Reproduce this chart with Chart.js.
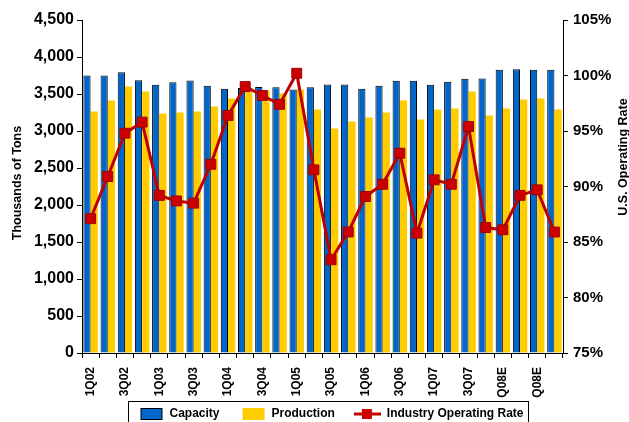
<!DOCTYPE html>
<html>
<head>
<meta charset="utf-8">
<script src="https://cdn.jsdelivr.net/npm/chart.js@4"></script>
<style>
  html, body { margin: 0; padding: 0; background: #fff; }
  #wrap { width: 629px; height: 422px; }
</style>
</head>
<body>
<div id="wrap"><canvas id="myChart" width="629" height="422"></canvas></div>
<script>
const quarters = ['1Q02', '2Q02', '3Q02', '4Q02', '1Q03', '2Q03', '3Q03', '4Q03',
  '1Q04', '2Q04', '3Q04', '4Q04', '1Q05', '2Q05', '3Q05', '4Q05',
  '1Q06', '2Q06', '3Q06', '4Q06', '1Q07', '2Q07', '3Q07', '4Q07',
  '1Q08E', '2Q08E', '3Q08E', '4Q08E'];

// thousands of tons
const capacity = [3750, 3750, 3795, 3686, 3624, 3660, 3682, 3611,
  3570, 3580, 3595, 3590, 3560, 3592, 3628, 3628,
  3570, 3611, 3678, 3678, 3624, 3664, 3705, 3709,
  3827, 3836, 3827, 3827];
const production = [3264, 3412, 3601, 3534, 3236, 3250, 3264, 3331,
  3439, 3530, 3547, 3507, 3560, 3290, 3034, 3128,
  3182, 3250, 3412, 3155, 3290, 3304, 3534, 3209,
  3304, 3426, 3439, 3290];
// percent
const operatingRate = [87.1, 90.9, 94.8, 95.8, 89.2, 88.7, 88.5, 92.0,
  96.4, 99.0, 98.2, 97.4, 100.2, 91.5, 83.4, 85.9,
  89.1, 90.2, 93.0, 85.8, 90.6, 90.2, 95.4, 86.3,
  86.1, 89.2, 89.7, 85.9];

const leftTicks = { min: 0, max: 4500, step: 500 };
const rightTicks = { min: 75, max: 105, step: 5 };

const sans = "'Liberation Sans', Arial, sans-serif";
const blue = '#0066CC';
const yellow = '#FFCC00';
const red = '#C00000';

// little pictures for the legend (swatch / line with marker)
function swatch(kind) {
  const c = document.createElement('canvas');
  c.width = 36; c.height = 14;
  const g = c.getContext('2d');
  if (kind === 'line') {
    g.strokeStyle = red; g.lineWidth = 3;
    g.beginPath(); g.moveTo(9, 7); g.lineTo(36, 7); g.stroke();
    g.fillStyle = '#CC0000';
    g.fillRect(17, 2, 10, 10);
  } else {
    g.fillStyle = kind;
    g.fillRect(13, 1, 22, 12);
    if (kind === blue) {
      g.strokeStyle = '#000'; g.lineWidth = 1;
      g.strokeRect(13.5, 1.5, 21, 11);
    }
  }
  return c;
}
const legendPics = [swatch(blue), swatch(yellow), swatch('line')];

const extras = {
  id: 'extras',
  afterDraw(chart) {
    const ctx = chart.ctx;
    ctx.save();
    ctx.fillStyle = '#000';
    ctx.font = 'bold 12.5px ' + sans;
    ctx.textAlign = 'center';
    ctx.textBaseline = 'middle';
    // left axis title
    ctx.save();
    ctx.translate(18, 183);
    ctx.rotate(-Math.PI / 2);
    ctx.fillText('Thousands of Tons', 0, 0);
    ctx.restore();
    // right axis title
    ctx.save();
    ctx.translate(624, 157);
    ctx.rotate(-Math.PI / 2);
    ctx.fillText('U.S. Operating Rate', 0, 0);
    ctx.restore();
    // box around legend
    const hb = chart.legend.legendHitBoxes;
    if (hb && hb.length) {
      const l = hb[0].left + 1;
      const last = hb[hb.length - 1];
      const r = last.left + last.width + 5;
      const t = hb[0].top - 7;
      ctx.strokeStyle = '#000';
      ctx.lineWidth = 1;
      ctx.strokeRect(Math.round(l) + 0.5, Math.round(t) + 0.5, Math.round(r - l), 40);
    }
    ctx.restore();
  }
};

const chart = new Chart(document.getElementById('myChart').getContext('2d'), {
  type: 'bar',
  data: {
    labels: quarters,
    datasets: [
      {
        label: 'Capacity',
        data: capacity,
        backgroundColor: blue,
        borderColor: '#000',
        borderWidth: { top: 1, left: 1, right: 1, bottom: 0 },
        yAxisID: 'y',
        order: 1
      },
      {
        label: 'Production',
        data: production,
        backgroundColor: yellow,
        borderWidth: 0,
        yAxisID: 'y',
        order: 1
      },
      {
        type: 'line',
        label: 'Industry Operating Rate',
        data: operatingRate,
        borderColor: red,
        borderWidth: 3,
        tension: 0,
        pointStyle: 'rect',
        pointRadius: 7,
        pointBackgroundColor: '#CC0000',
        pointBorderColor: '#A00000',
        pointBorderWidth: 1,
        yAxisID: 'y1',
        order: 0
      }
    ]
  },
  options: {
    responsive: false,
    animation: false,
    layout: { padding: { top: 20, left: 22, right: 0, bottom: -8 } },
    datasets: {
      bar: { categoryPercentage: 0.84, barPercentage: 1.0 }
    },
    plugins: {
      tooltip: { enabled: false },
      title: { display: false },
      legend: {
        display: true,
        position: 'bottom',
        labels: {
          usePointStyle: true,
          pointStyleWidth: 36,
          boxHeight: 14,
          padding: 10,
          color: '#000',
          font: { family: sans, size: 12, weight: 'bold' },
          generateLabels(ch) {
            return ch.data.datasets.map((ds, i) => ({
              text: ds.label,
              pointStyle: legendPics[i],
              fillStyle: 'transparent',
              strokeStyle: 'transparent',
              lineWidth: 0,
              hidden: false,
              datasetIndex: i
            }));
          }
        }
      }
    },
    scales: {
      x: {
        grid: {
          offset: true,
          drawOnChartArea: false,
          drawTicks: true,
          tickLength: 5,
          color: '#000'
        },
        border: { display: true, color: '#000', width: 1 },
        ticks: {
          autoSkip: false,
          maxRotation: 90,
          minRotation: 90,
          padding: 9,
          color: '#000',
          font: { family: sans, size: 12, weight: 'bold' },
          callback: function (v, i) { return i % 2 === 0 ? this.getLabelForValue(v) : ''; }
        },
        afterFit(scale) { scale.height = 45; }
      },
      y: {
        position: 'left',
        min: leftTicks.min,
        max: leftTicks.max,
        grid: { drawOnChartArea: false, tickLength: 5, color: '#000' },
        border: { display: true, color: '#000', width: 1 },
        ticks: {
          stepSize: leftTicks.step,
          padding: 3,
          color: '#000',
          font: { family: sans, size: 16, weight: 'bold' },
          callback: v => v.toLocaleString('en-US')
        },
        afterFit(scale) { scale.width = 60; }
      },
      y1: {
        position: 'right',
        min: rightTicks.min,
        max: rightTicks.max,
        grid: { drawOnChartArea: false, tickLength: 5, color: '#000' },
        border: { display: true, color: '#000', width: 1 },
        ticks: {
          stepSize: rightTicks.step,
          padding: 5,
          color: '#000',
          font: { family: sans, size: 15, weight: 'bold' },
          callback: v => v + '%'
        },
        afterFit(scale) { scale.width = 66; }
      }
    }
  },
  plugins: [extras]
});
</script>
</body>
</html>
